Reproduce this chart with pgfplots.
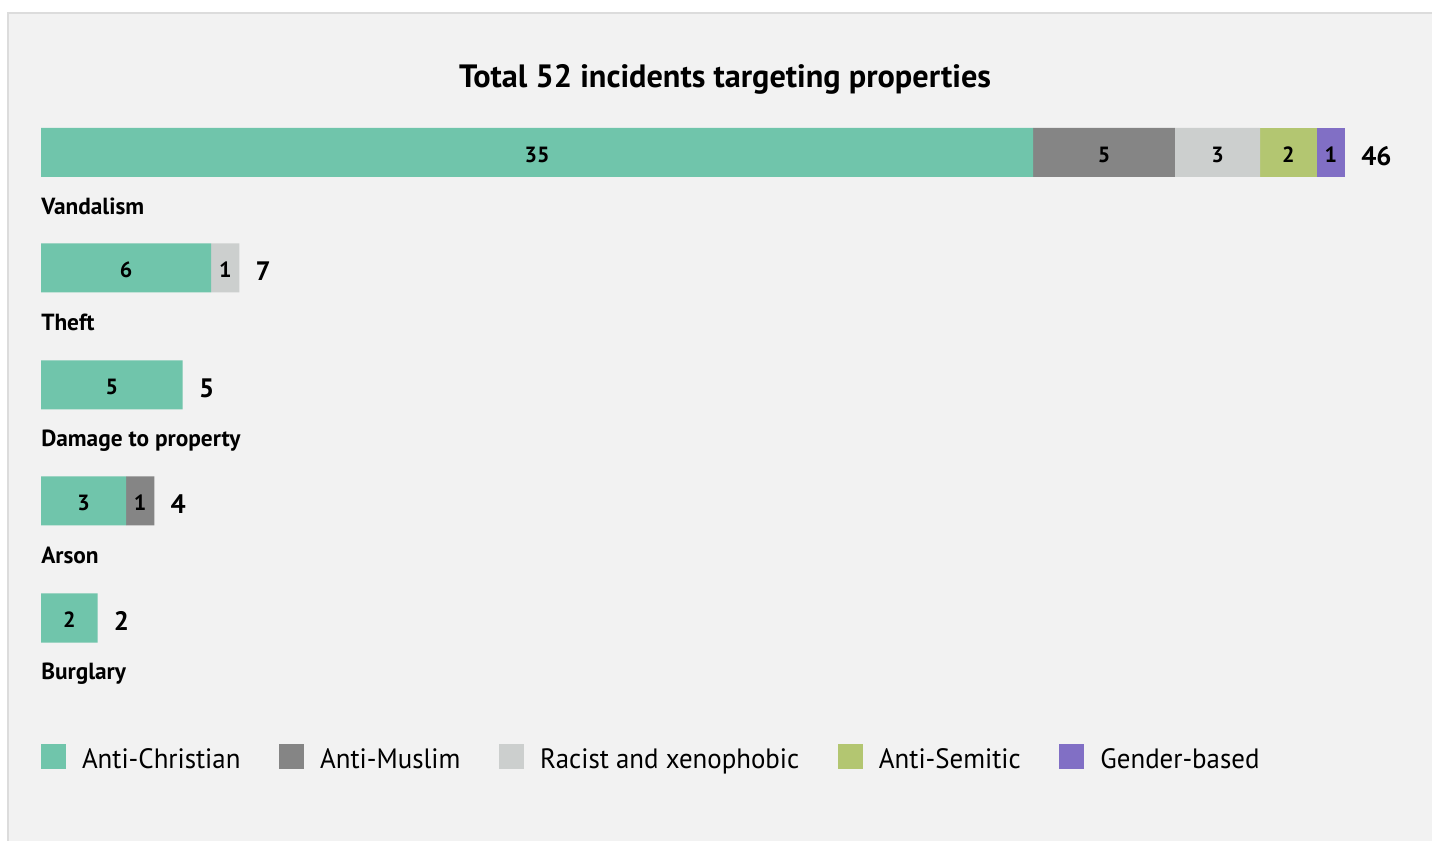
\documentclass[border=0pt]{standalone}
\usepackage{pgfplots}
\pgfplotsset{compat=1.18}
\usepackage{fontspec}
\setmainfont{PT Sans}
\newfontfamily\narrowfont{PT Sans}[FakeStretch=0.96]
\definecolor{cChr}{HTML}{70C5AB}
\definecolor{cMus}{HTML}{858585}
\definecolor{cRac}{HTML}{CCCFCE}
\definecolor{cSem}{HTML}{B3C671}
\definecolor{cGen}{HTML}{816FC5}
\definecolor{bgc}{HTML}{F2F2F2}
\definecolor{bdc}{HTML}{DCDCDC}
\pgfplotsset{base/.style={
  at={(0,0)}, anchor=south west,
  scale only axis, width=1074pt, height=630.75pt,
  xmin=-1.4463, xmax=49.069, ymin=0, ymax=841, y dir=reverse,
  hide axis, clip=false}}
\begin{document}
\begin{tikzpicture}
\useasboundingbox (0,0) rectangle (1074pt,630.75pt);
\fill[white] (0,0) rectangle (1074pt,630.75pt);
\fill[bgc] (6pt,0) rectangle (1074pt,621pt);
\draw[bdc, line width=1.5pt] (6pt,0) -- (6pt,621pt) -- (1074pt,621pt);
\begin{axis}[base,
  xbar stacked, bar width=49,
  every axis plot/.append style={draw=none},
  legend columns=-1,
  legend image code/.code={\fill[#1] (0pt,-1pt) rectangle (18.75pt,17.75pt);},
  legend style={at={(axis cs:0,768)}, anchor=base west, draw=none, fill=none,
    inner sep=0pt, outer sep=0pt,
    font=\narrowfont\fontsize{21}{21}\selectfont,
    nodes={inner sep=0pt, anchor=base west},
    /tikz/every odd column/.append style={column sep=12pt},
    /tikz/every even column/.append style={column sep=29pt}},
]
\addplot[fill=cChr] coordinates {(35,152.5) (6,268) (5,385) (3,501) (2,618)};
\addplot[fill=cMus] coordinates {(5,152.5) (0,268) (0,385) (1,501) (0,618)};
\addplot[fill=cRac] coordinates {(3,152.5) (1,268) (0,385) (0,501) (0,618)};
\addplot[fill=cSem] coordinates {(2,152.5) (0,268) (0,385) (0,501) (0,618)};
\addplot[fill=cGen] coordinates {(1,152.5) (0,268) (0,385) (0,501) (0,618)};
\legend{Anti-Christian, Anti-Muslim, Racist and xenophobic, Anti-Semitic, Gender-based}
\end{axis}
\begin{axis}[base]
\addplot[draw=none, mark=none, point meta=explicit symbolic, nodes near coords,
  every node near coord/.append style={anchor=center, inner sep=0pt, yshift=-1.5pt, font=\bfseries\fontsize{16.5}{16.5}\selectfont, text=black}]
  coordinates {(17.5,152.5)[35] (37.5,152.5)[5] (41.5,152.5)[3] (44,152.5)[2] (45.5,152.5)[1]
               (3,268)[6] (6.5,268)[1] (2.5,385)[5] (1.5,501)[3] (3.5,501)[1] (1,618)[2]};

\node[anchor=base, font=\bfseries\fontsize{24.2}{24.2}\selectfont, inner sep=0pt] at (axis cs:24.13,88) {Total 52 incidents targeting properties};

\begin{scope}[every node/.style={anchor=base west, inner sep=0pt, font=\bfseries\fontsize{20}{20}\selectfont, xshift=12pt}]
\node at (axis cs:46,165.5) {46};
\node at (axis cs:7,281) {7};
\node at (axis cs:5,398) {5};
\node at (axis cs:4,514) {4};
\node at (axis cs:2,631) {2};
\end{scope}

\begin{scope}[every node/.style={anchor=base west, inner sep=0pt, font=\bfseries\fontsize{17.5}{17.5}\selectfont}]
\node at (axis cs:0,214.5) {Vandalism};
\node at (axis cs:0,330.5) {Theft};
\node at (axis cs:0,447) {Damage to property};
\node at (axis cs:0,563.5) {Arson};
\node at (axis cs:0,679.5) {Burglary};
\end{scope}
\end{axis}
\end{tikzpicture}
\end{document}
